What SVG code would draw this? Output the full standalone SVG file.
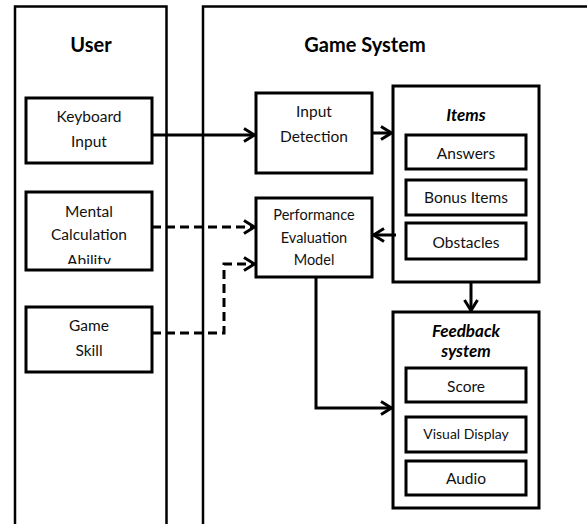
<svg xmlns="http://www.w3.org/2000/svg" width="587" height="524" viewBox="0 0 587 524">
  <style>
    .panel { fill: none; stroke: #000; stroke-width: 2.5; }
    .box { fill: #fff; stroke: #000; stroke-width: 3; }
    .t { font-family: Lato, "Liberation Sans", sans-serif; font-size: 15.5px; fill: #111; text-anchor: middle; }
    .title { font-family: Lato, "Liberation Sans", sans-serif; font-size: 20px; font-weight: bold; fill: #000; text-anchor: middle; }
    .sub { font-family: Lato, "Liberation Sans", sans-serif; font-size: 17px; font-weight: bold; font-style: italic; fill: #000; text-anchor: middle; }
    .solid { fill: none; stroke: #000; stroke-width: 3; }
    .dash { fill: none; stroke: #000; stroke-width: 3; stroke-dasharray: 9 5; }
  </style>
  <defs>
    <marker id="arrow" markerUnits="userSpaceOnUse" viewBox="0 0 14 16" refX="12" refY="8" markerWidth="14" markerHeight="16" orient="auto">
      <path d="M1.5,1.5 L12,8 L1.5,14.5" fill="none" stroke="#000" stroke-width="3"/>
    </marker>
    <clipPath id="mentalClip">
      <rect x="26" y="192" width="126" height="72"/>
    </clipPath>
  </defs>

  <rect width="587" height="524" fill="#fff"/>

  <!-- swimlanes -->
  <g id="lane-user">
    <path class="panel" d="M15,530 V6.5 H166.5 V530"/>
    <text class="title" x="91" y="52">User</text>
  </g>
  <g id="lane-game">
    <path class="panel" d="M203,530 V6.5 H600"/>
    <text class="title" x="365" y="52">Game System</text>
  </g>

  <!-- user side -->
  <g id="keyboard-input">
    <rect class="box" x="26" y="98" width="126" height="65"/>
    <text class="t" x="89" y="122">Keyboard</text>
    <text class="t" x="89" y="147">Input</text>
  </g>
  <g id="mental-calculation">
    <rect class="box" x="26" y="192" width="126" height="78"/>
    <g clip-path="url(#mentalClip)">
      <text class="t" x="89" y="217">Mental</text>
      <text class="t" x="89" y="240">Calculation</text>
      <text class="t" x="89" y="266">Ability</text>
    </g>
  </g>
  <g id="game-skill">
    <rect class="box" x="26" y="307" width="126" height="65"/>
    <text class="t" x="89" y="331">Game</text>
    <text class="t" x="89" y="356">Skill</text>
  </g>

  <!-- game system side -->
  <g id="input-detection">
    <rect class="box" x="256" y="93" width="116" height="80"/>
    <text class="t" x="314" y="117">Input</text>
    <text class="t" x="314" y="142">Detection</text>
  </g>
  <g id="performance-evaluation">
    <rect class="box" x="256" y="198" width="116" height="79"/>
    <text class="t" x="314" y="220" style="font-size:14.5px">Performance</text>
    <text class="t" x="314" y="243" style="font-size:14.5px">Evaluation</text>
    <text class="t" x="314" y="265" style="font-size:14.5px">Model</text>
  </g>
  <g id="items">
    <rect class="box" x="393" y="86" width="146" height="196"/>
    <text class="sub" x="466" y="121">Items</text>
    <g id="answers">
      <rect class="box" x="406" y="135" width="120" height="34"/>
      <text class="t" x="466" y="159">Answers</text>
    </g>
    <g id="bonus-items">
      <rect class="box" x="406" y="180" width="120" height="35"/>
      <text class="t" x="466" y="203">Bonus Items</text>
    </g>
    <g id="obstacles">
      <rect class="box" x="406" y="223" width="120" height="36"/>
      <text class="t" x="466" y="248">Obstacles</text>
    </g>
  </g>
  <g id="feedback-system">
    <rect class="box" x="393" y="312" width="146" height="196"/>
    <text class="sub" x="466" y="337">Feedback</text>
    <text class="sub" x="466" y="357">system</text>
    <g id="score">
      <rect class="box" x="406" y="368" width="120" height="34"/>
      <text class="t" x="466" y="392">Score</text>
    </g>
    <g id="visual-display">
      <rect class="box" x="406" y="417" width="120" height="35"/>
      <text class="t" x="466" y="439" style="font-size:14px">Visual Display</text>
    </g>
    <g id="audio">
      <rect class="box" x="406" y="461" width="120" height="34"/>
      <text class="t" x="466" y="484">Audio</text>
    </g>
  </g>

  <!-- connectors -->
  <g id="connectors">
    <path class="solid" d="M152,135 H254.5" marker-end="url(#arrow)"/>
    <path class="solid" d="M372,133 H391.5" marker-end="url(#arrow)"/>
    <path class="solid" d="M396,235 H373.5" marker-end="url(#arrow)"/>
    <path class="solid" d="M471,282 V310.5" marker-end="url(#arrow)"/>
    <path class="solid" d="M316,277 V408 H391.5" marker-end="url(#arrow)"/>
    <path class="dash" d="M152,227 H254.5" marker-end="url(#arrow)"/>
    <path class="dash" d="M152,333 H224 V264 H254.5" marker-end="url(#arrow)"/>
  </g>
</svg>
